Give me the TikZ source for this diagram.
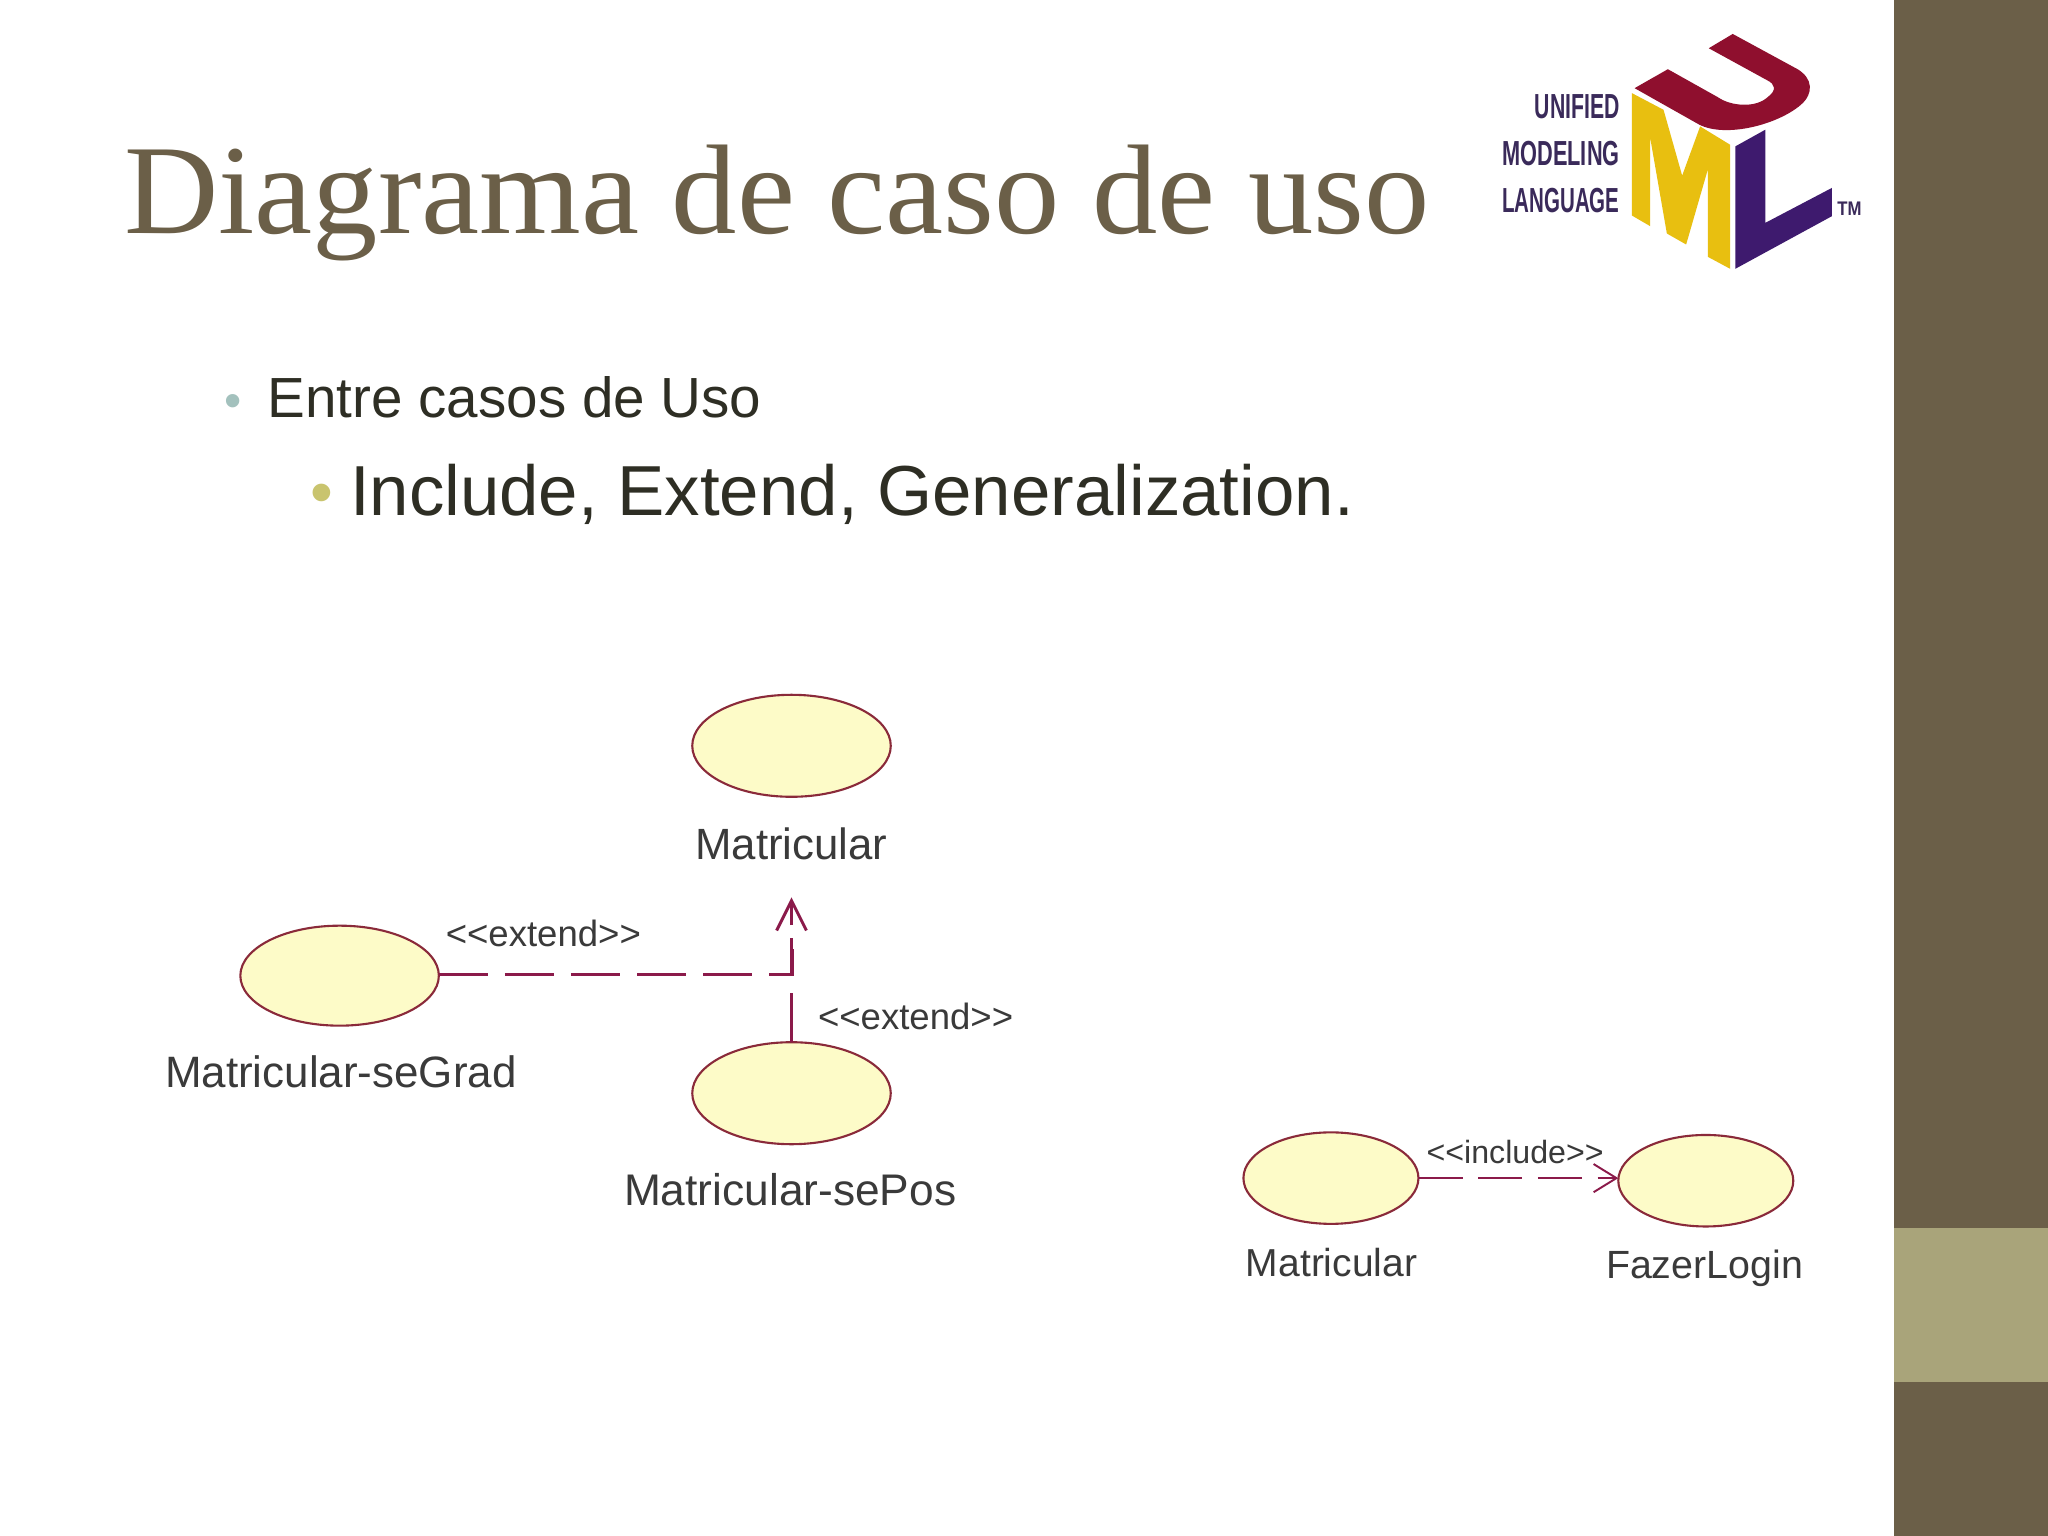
\documentclass[tikz,border=0pt]{standalone}
\usepackage{fontspec}
\setmainfont{Liberation Sans}
\newfontfamily\serifface{Liberation Serif}
\usetikzlibrary{arrows.meta,shapes.geometric}
\definecolor{sidebar}{HTML}{6B5F48}
\definecolor{band}{HTML}{A9A47A}
\definecolor{umlline}{HTML}{8B1A4A}
\definecolor{casefill}{HTML}{FDFBC8}
\definecolor{caseedge}{HTML}{8A2A3A}
\definecolor{labeltxt}{HTML}{3A3A3A}
\definecolor{bodytxt}{HTML}{2E2E24}
\definecolor{logotxt}{HTML}{3A2A5A}
\definecolor{logored}{HTML}{8F0F2E}
\definecolor{logoyel}{HTML}{E8BF10}
\definecolor{logopur}{HTML}{3E1A6E}
\definecolor{bulletA}{HTML}{A3C1BD}
\definecolor{bulletB}{HTML}{C9C46E}
\newcommand{\sized}[1]{\fontsize{#1}{#1}\selectfont}
\tikzset{
  txt/.style={inner sep=0pt,outer sep=0pt,anchor=base west},
  txtc/.style={inner sep=0pt,outer sep=0pt,anchor=base,text=labeltxt},
  usecase/.style={ellipse,draw=caseedge,fill=casefill,line width=0.6pt,inner sep=0pt,outer sep=0pt},
  conn/.style={draw=umlline,line width=0.75pt},
  logoword/.style={inner sep=0pt,outer sep=0pt,anchor=base east,text=logotxt,font=\bfseries\sized{9.9pt}},
}
\begin{document}
\begin{tikzpicture}[x=0.0130612cm,y=-0.0130612cm]
\useasboundingbox (0,0) rectangle (1568,1176);
\fill[white] (0,0) rectangle (1568,1176);
% sidebar
\fill[sidebar] (1450,0) rectangle (1568,1176);
\fill[band] (1450,940) rectangle (1568,1058);
% title and bullets
\node[txt,text=sidebar,font=\serifface\sized{36.3pt},xscale=1.024] (title) at (95,179) {Diagrama de caso de uso};
\node[txt,text=bulletA,font=\sized{14pt}] (b1) at (172,320) {•};
\node[txt,text=bodytxt,font=\sized{16.1pt}] (l1) at (205,320) {Entre casos de Uso};
\node[txt,text=bulletB,font=\sized{18.5pt}] (b2) at (238,394) {•};
\node[txt,text=bodytxt,font=\sized{20.15pt}] (l2) at (268,395) {Include, Extend, Generalization.};
% logo
\begin{scope}[shift={(1117.8,7.66)},x=0.0033333cm,y=-0.0033333cm]
\fill[logored] (525,235) -- (625,178) -- (775,262) .. controls (815,290) and (890,295) .. (925,262) .. controls (955,240) and (945,222) .. (925,212) -- (748,115) -- (820,72) -- (1015,178) .. controls (1060,205) and (1065,250) .. (1025,285) .. controls (955,345) and (800,385) .. (720,345) -- cycle;
\fill[logoyel] (517,250) -- (612,300) -- (668,498) -- (722,350) -- (812,405) -- (812,778) -- (745,742) -- (745,480) -- (680,705) -- (622,672) -- (572,385) -- (572,650) -- (517,618) -- cycle;
\fill[logopur] (828,410) -- (918,360) -- (918,640) -- (1118,535) -- (1118,620) -- (828,778) -- cycle;
\node[logoword,xscale=0.61] (w1) at (480,327) {UNIFIED};
\node[logoword,xscale=0.625] (w2) at (480,468) {MODELING};
\node[logoword,xscale=0.59] (w3) at (480,610) {LANGUAGE};
\node[inner sep=0pt,outer sep=0pt,anchor=base west,text=logotxt,font=\bfseries\sized{5.6pt},xscale=0.85] (tm) at (1135,618) {TM};
\end{scope}
% use cases
\node[usecase,minimum width=1.985cm,minimum height=1.02cm] (A) at (606,571) {};
\node[usecase,minimum width=1.985cm,minimum height=1.0cm] (B) at (260,747) {};
\node[usecase,minimum width=1.985cm,minimum height=1.02cm] (C) at (606,837) {};
\node[usecase,minimum width=1.75cm,minimum height=0.915cm] (D) at (1019,902) {};
\node[usecase,minimum width=1.75cm,minimum height=0.915cm] (E) at (1306,904) {};
% labels
\node[txtc,font=\sized{12.45pt}] (la) at (606,658) {Matricular};
\node[txtc,font=\sized{12.5pt}] (lb) at (261,833) {Matricular-seGrad};
\node[txtc,font=\sized{12.6pt}] (lc) at (605,923) {Matricular-sePos};
\node[txtc,font=\sized{11.1pt}] (ld) at (1019.5,977) {Matricular};
\node[txtc,font=\sized{11.2pt}] (le) at (1305,979) {FazerLogin};
\node[txtc,font=\sized{10.4pt}] (x1) at (416,725) {<{}<extend>{}>};
\node[txtc,font=\sized{10.4pt}] (x2) at (701,788) {<{}<extend>{}>};
\node[txtc,font=\sized{9.15pt}] (x3) at (1160,891) {<{}<include>{}>};
% connectors
\coordinate (corner) at (607,746);
\coordinate (stub) at (607,718);
\coordinate (tip) at (606,687);
\draw[conn,line width=0.9pt,dash pattern=on 14pt off 4.8pt] (B.east |- corner) -- (corner) -- (stub);
\draw[conn,line width=0.85pt,dash pattern=on 14pt off 5.2pt on 10.4pt off 3.7pt on 8pt off 0pt,-{Straight Barb[length=8.5pt,width=8.5pt]}] (C.north) -- (tip);
\draw[conn,line width=0.55pt,dash pattern=on 12.6pt off 4.4pt,-{Straight Barb[length=6.5pt,width=8pt]}] (D.east) -- (D.east -| E.west);
\end{tikzpicture}
\end{document}
